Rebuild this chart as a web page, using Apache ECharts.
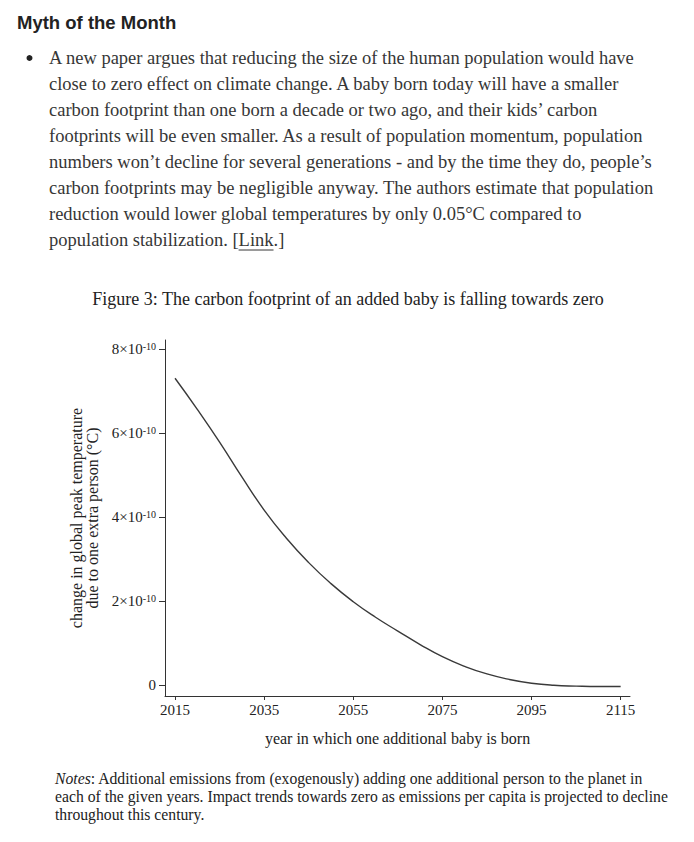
<!DOCTYPE html>
<html><head><meta charset="utf-8">
<script src="https://cdn.jsdelivr.net/npm/echarts@6/dist/echarts.min.js"></script>
<style>html,body{margin:0;padding:0;background:#fff}#c{width:694px;height:842px}</style>
</head><body><div id="c"></div>
<script>
// Years (x) and change in global peak temperature per extra person (units of 1e-10 °C)
const years = [2015,2020,2025,2030,2035,2040,2045,2050,2055,2060,2065,2070,2075,2080,2085,2090,2095,2100,2105,2110,2115];
const deltaTe10 = [7.31,6.57,5.79,4.96,4.17,3.50,2.92,2.42,1.99,1.62,1.29,0.97,0.68,0.45,0.27,0.14,0.05,0.00,-0.02,-0.03,-0.03];
const xTicks = [2015,2035,2055,2075,2095,2115];
const yTicks = [0,2,4,6,8]; // ×1e-10

const heading = 'Myth of the Month';
const paragraph = [
 'A new paper argues that reducing the size of the human population would have',
 'close to zero effect on climate change. A baby born today will have a smaller',
 'carbon footprint than one born a decade or two ago, and their kids\u2019 carbon',
 'footprints will be even smaller. As a result of population momentum, population',
 'numbers won\u2019t decline for several generations - and by the time they do, people\u2019s',
 'carbon footprints may be negligible anyway. The authors estimate that population',
 'reduction would lower global temperatures by only 0.05\u00b0C compared to',
 'population stabilization. [Link.]'
];
const figTitle = 'Figure 3: The carbon footprint of an added baby is falling towards zero';
const xName = 'year in which one additional baby is born';
const yName = 'change in global peak temperature\ndue to one extra person (\u00b0C)';
const notes = [
 '{i|Notes}: Additional emissions from (exogenously) adding one additional person to the planet in',
 'each of the given years. Impact trends towards zero as emissions per capita is projected to decline',
 'throughout this century.'
];

const serif = '"Liberation Serif", "DejaVu Serif", serif';
const txt = '#363636';
const paraFont = '18.5px ' + serif;
const graphics = [];
graphics.push({type:'text', x:17, y:22, style:{text:heading, font:'bold 18.5px "Liberation Sans", Arial, sans-serif', fill:'#222', verticalAlign:'middle'}});
graphics.push({type:'circle', shape:{cx:29.5, cy:58, r:3}, style:{fill:'#222'}});
paragraph.forEach((l,i)=>{
  graphics.push({type:'text', x:49, y:58+i*26, style:{text:l, font:paraFont, fill:txt, verticalAlign:'middle'}});
});
// underline for "Link"
const ctx = document.createElement('canvas').getContext('2d');
ctx.font = paraFont;
const pre = ctx.measureText('population stabilization. [').width;
const lw = ctx.measureText('Link').width;
graphics.push({type:'line', shape:{x1:49+pre, y1:250, x2:49+pre+lw, y2:250}, style:{stroke:txt, lineWidth:1}});
graphics.push({type:'text', x:348, y:299, style:{text:figTitle, font:'18px '+serif, fill:'#222', align:'center', verticalAlign:'middle'}});
notes.forEach((l,i)=>{
  graphics.push({type:'text', x:55, y:778+i*18, style:{text:l, font:'15.7px '+serif, fill:'#222', verticalAlign:'middle',
    rich:{i:{fontStyle:'italic', fontSize:15.7, fontFamily:serif, fill:'#222'}}}});
});

const chart = echarts.init(document.getElementById('c'), null, {renderer:'svg'});
chart.setOption({
  animation:false,
  grid:{left:165, right:64, top:340, bottom:146},
  xAxis:{type:'value', min:2012.75, max:2117.1,
    axisLine:{show:true, onZero:false, lineStyle:{color:'#333', width:1}},
    axisTick:{show:true, length:4, customValues:xTicks, lineStyle:{color:'#333'}},
    axisLabel:{customValues:xTicks, color:'#222', fontFamily:serif, fontSize:15, margin:6, formatter:v=>String(v)},
    splitLine:{show:false},
    name:xName, nameLocation:'middle', nameGap:34,
    nameTextStyle:{color:'#222', fontFamily:serif, fontSize:16}
  },
  yAxis:{type:'value', min:-0.255, max:8.22,
    axisLine:{show:true, onZero:false, lineStyle:{color:'#333', width:1}},
    axisTick:{show:true, length:6, customValues:yTicks, lineStyle:{color:'#333'}},
    axisLabel:{customValues:yTicks, color:'#222', margin:9,
      formatter:v=> v===0 ? '{m|0}' : '{m|'+v+'\u00d710}{s|-10}',
      rich:{m:{fontFamily:serif, fontSize:15, color:'#222', lineHeight:16}, s:{fontFamily:serif, fontSize:10, color:'#222', verticalAlign:'top', lineHeight:16}}},
    splitLine:{show:false},
    name:yName, nameLocation:'middle', nameGap:64, nameRotate:90,
    nameTextStyle:{color:'#222', fontFamily:serif, fontSize:16, lineHeight:16}
  },
  series:[{type:'line', data:years.map((y,i)=>[y,deltaTe10[i]]), smooth:0.5, showSymbol:false,
    lineStyle:{color:'#3a3a3a', width:1.4}}],
  graphic:graphics
});
</script></body></html>
